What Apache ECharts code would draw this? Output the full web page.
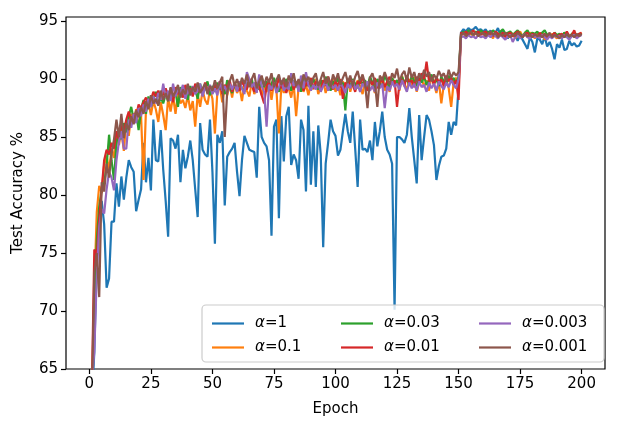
<!DOCTYPE html>
<html>
<head>
<meta charset="utf-8">
<script src="https://cdn.jsdelivr.net/npm/echarts@6/dist/echarts.min.js"></script>
<style>
  html, body { margin: 0; padding: 0; background: #fff; }
  #main { width: 623px; height: 429px; }
</style>
</head>
<body>
<div id="main"></div>
<script>
"use strict";
// epochs 1..200
var epochs = [];
for (var e = 1; e <= 200; e++) epochs.push(e);

var xTicks = [0, 25, 50, 75, 100, 125, 150, 175, 200];
var yTicks = [65, 70, 75, 80, 85, 90, 95];
var names = ["α=1", "α=0.1", "α=0.03", "α=0.01", "α=0.003", "α=0.001"];
var colors = ["#1f77b4", "#ff7f0e", "#2ca02c", "#d62728", "#9467bd", "#8c564b"];

var a1 = [
  62.0, 66.5, 74.5, 78.0, 79.5, 77.5, 72.0, 72.8, 77.7, 77.7,
  81.0, 79.0, 81.6, 79.6, 81.5, 83.0, 82.4, 82.0, 78.6, 79.6,
  80.5, 84.5, 81.1, 83.2, 80.4, 86.5, 83.0, 82.9, 85.6, 82.2,
  79.5, 76.4, 84.9, 84.7, 84.0, 85.2, 81.1, 83.9, 82.3, 83.3,
  84.7, 83.0, 80.5, 78.1, 86.2, 83.9, 83.5, 83.3, 86.5, 82.0,
  75.8, 85.2, 84.5, 85.5, 79.1, 83.3, 83.7, 84.0, 84.5, 82.0,
  79.9, 83.0, 85.1, 84.5, 83.9, 83.8, 83.7, 81.5, 87.6, 85.0,
  84.5, 84.2, 83.0, 76.5, 85.9, 86.5, 78.0, 86.8, 82.9, 86.8,
  87.6, 82.6, 83.5, 83.0, 81.4, 86.5, 85.6, 80.3, 87.7, 80.9,
  85.5, 80.7, 86.0, 83.5, 75.5, 82.7, 84.5, 86.5, 85.5, 85.1,
  83.4, 83.9, 85.5, 87.0, 85.5, 84.5, 87.2, 84.0, 80.7, 86.5,
  83.9, 84.0, 83.7, 84.7, 83.0, 86.3, 84.2, 85.5, 87.2, 85.0,
  83.9, 83.5, 82.7, 70.1, 85.0, 85.0, 84.8, 84.5, 85.2, 87.5,
  85.0, 83.0, 81.0, 86.9, 83.0, 85.0, 86.9, 86.5, 85.5, 84.3,
  81.3, 82.5, 83.3, 83.4, 84.0, 86.3, 85.2, 86.3, 86.0, 89.3,
  94.0, 94.3, 94.1, 94.4, 94.2, 94.3, 94.5, 94.2, 94.3, 94.1,
  94.3, 93.9, 94.2, 93.6, 94.0, 94.4, 93.8, 94.2, 93.9, 93.5,
  94.0, 93.7, 93.9, 93.3, 93.8, 93.4, 93.0, 92.6, 93.6, 93.2,
  92.3, 93.5, 93.4, 93.0, 93.7, 92.8, 93.2, 92.6, 91.7, 93.0,
  92.7, 93.4, 92.5, 92.6, 93.3, 92.9, 93.1, 92.8, 92.9, 93.3
];
var a01 = [
  62.0, 72.0, 78.5, 80.8, 80.2, 82.6, 83.4, 82.1, 84.0, 83.2,
  85.1, 84.3, 85.6, 83.8, 86.4, 85.1, 87.0, 86.3, 87.4, 86.0,
  86.8, 81.3, 87.4, 88.0, 86.9, 88.1, 87.4, 86.3, 88.0, 86.9,
  85.6, 88.4, 87.2, 88.5, 87.0, 88.8, 87.9, 88.2, 87.5, 88.6,
  87.3, 88.1, 85.9, 88.7, 87.6, 89.0, 88.2, 87.8, 89.1, 88.3,
  85.3, 88.9, 89.4, 88.0, 89.2, 88.6, 89.5, 88.4, 89.7, 88.8,
  89.3, 88.1, 89.6, 89.0, 88.5, 89.8, 88.7, 89.2, 89.9, 88.6,
  89.4, 88.9, 89.6, 88.2, 89.7, 89.1, 85.3, 89.5, 88.8, 89.9,
  89.2, 88.4, 89.6, 86.8, 89.3, 89.8, 88.9, 89.5, 88.6, 89.7,
  89.1, 90.0, 88.7, 89.4, 89.9, 88.8, 89.6, 89.2, 90.1, 88.9,
  89.5, 88.6, 89.8, 89.3, 90.0, 88.9, 89.7, 89.1, 89.9, 89.4,
  88.7, 89.8, 89.2, 90.0, 89.5, 88.8, 89.9, 89.3, 90.2, 89.0,
  89.6, 88.9, 90.1, 89.4, 89.8, 89.0, 90.3, 89.5, 89.1, 90.0,
  89.4, 90.2, 88.9, 89.7, 90.1, 89.3, 89.9, 89.0, 90.3, 89.6,
  88.8, 89.8, 87.9, 89.5, 90.0, 89.2, 87.6, 89.7, 90.1, 89.8,
  93.7, 94.0, 93.8, 94.1, 93.9, 93.7, 94.0, 93.8, 94.1, 93.9,
  93.6, 94.0, 93.8, 93.5, 94.1, 93.9, 93.7, 94.0, 93.8, 93.6,
  94.0, 93.9, 93.5, 93.8, 94.1, 93.7, 93.9, 93.6, 94.0, 93.8,
  93.5, 93.9, 93.7, 94.0, 93.4, 93.8, 93.6, 93.9, 93.7, 93.5,
  93.8, 93.6, 94.0, 93.7, 93.5, 93.8, 93.9, 93.6, 93.8, 94.0
];
var a003 = [
  61.0, 70.5, 76.0, 79.0, 80.5, 81.0, 82.5, 85.2, 83.0, 81.3,
  84.5, 85.5, 84.8, 86.2, 85.4, 86.8, 87.6, 86.5, 87.2, 85.6,
  87.4, 88.2, 87.0, 88.5, 87.6, 88.3, 88.9, 87.8, 88.4, 87.9,
  88.7, 88.1, 89.2, 88.4, 88.9, 87.6, 89.3, 88.6, 89.0, 88.2,
  89.4, 88.7, 89.1, 88.3, 89.6, 88.8, 89.2, 89.8, 88.6, 89.4,
  88.9, 89.7, 89.1, 89.5, 88.7, 89.9, 89.3, 88.8, 89.6, 89.0,
  89.8, 89.2, 88.9, 89.7, 89.4, 90.0, 88.9, 89.5, 89.1, 90.2,
  89.3, 89.8, 89.0, 89.6, 90.1, 89.4, 88.9, 89.7, 89.2, 90.0,
  89.5, 89.0, 89.9, 89.3, 89.7, 88.9, 90.1, 89.4, 89.8, 89.2,
  90.0, 89.5, 89.1, 89.9, 89.4, 90.2, 89.6, 89.0, 89.8, 89.5,
  90.1, 89.3, 89.7, 87.3, 89.9, 89.4, 90.0, 89.6, 89.2, 90.1,
  89.5, 89.9, 89.3, 90.2, 89.7, 89.1, 90.0, 89.6, 89.4, 90.3,
  89.8, 89.2, 90.1, 89.6, 89.9, 89.3, 90.2, 89.7, 90.0, 89.5,
  90.3, 89.8, 89.4, 90.1, 89.7, 90.2, 89.5, 89.9, 90.4, 89.6,
  90.0, 89.4, 90.2, 89.8, 89.5, 90.3, 89.7, 90.1, 89.6, 90.2,
  93.9, 94.1, 93.9, 94.2, 94.0, 93.8, 94.1, 93.9, 94.2, 94.0,
  93.8, 94.1, 93.9, 94.2, 94.0, 93.7, 94.1, 94.3, 93.9, 94.0,
  94.1, 93.8, 94.0, 94.2, 93.9, 93.7, 94.0, 94.2, 93.8, 94.0,
  93.9, 94.1, 93.7, 94.0, 94.2, 93.8, 93.9, 93.6, 94.0, 93.8,
  93.9, 93.7, 94.0, 93.8, 93.6, 93.9, 94.0, 93.7, 93.9, 93.8
];
var a001 = [
  63.0, 75.3, 74.8, 78.0, 80.5, 83.0, 83.9, 83.5, 84.5, 84.0,
  85.5, 84.8, 86.0, 85.5, 86.5, 87.2, 86.3, 87.0, 86.8, 87.8,
  87.5, 88.0, 88.4, 87.9, 88.2, 88.9, 88.5, 89.0, 88.3, 88.7,
  89.2, 88.6, 88.9, 88.0, 89.3, 88.7, 89.1, 88.4, 89.5, 88.8,
  89.2, 88.5, 89.6, 88.9, 89.3, 88.6, 89.7, 89.0, 89.4, 88.8,
  89.6, 89.1, 89.8, 88.7, 89.5, 89.2, 89.9, 88.9, 89.6, 89.3,
  89.0, 89.8, 89.4, 89.1, 90.0, 89.5, 88.9, 89.7, 89.3, 88.6,
  87.9, 89.4, 89.8, 89.0, 89.6, 89.3, 90.1, 89.2, 89.7, 88.8,
  89.5, 90.0, 89.1, 89.6, 89.3, 89.9, 89.0, 89.7, 89.4, 90.1,
  89.2, 89.8, 89.5, 89.0, 89.9, 89.4, 90.2, 89.6, 89.1, 89.8,
  89.4, 90.0, 88.3, 89.7, 89.3, 90.1, 89.5, 88.9, 89.8, 89.6,
  90.2, 89.4, 89.0, 89.9, 89.5, 90.1, 89.2, 89.7, 90.0, 89.3,
  89.8, 90.2, 89.5, 89.9, 87.6, 89.7, 90.0, 89.4, 90.3, 89.6,
  89.9, 89.3, 90.2, 89.7, 90.5, 90.0, 91.5, 89.8, 90.1, 89.5,
  90.2, 89.7, 90.0, 89.4, 90.3, 89.8, 90.1, 89.5, 89.9, 88.2,
  94.0, 93.9, 94.1, 93.8, 94.0, 94.2, 93.9, 94.1, 93.8, 94.0,
  94.1, 93.8, 94.0, 93.7, 94.1, 93.9, 93.8, 94.0, 93.6, 93.9,
  94.0, 93.7, 93.9, 94.1, 93.8, 93.6, 93.9, 94.0, 93.7, 93.9,
  93.8, 93.6, 94.0, 93.7, 93.9, 93.5, 93.8, 93.7, 94.0, 93.6,
  93.8, 93.9, 93.6, 94.1, 93.7, 93.8, 94.2, 93.6, 93.9, 94.0
];
var a0003 = [
  64.0, 66.5, 73.0, 77.3, 78.8, 78.4, 80.5, 82.0, 81.5, 80.4,
  83.0, 84.6, 85.5, 84.0, 84.0, 86.5, 85.8, 87.0, 86.2, 87.5,
  86.8, 87.8, 87.2, 88.3, 87.6, 88.5, 87.9, 88.8, 88.2, 89.6,
  88.4, 89.0, 88.1, 89.6, 88.5, 89.2, 88.8, 89.5, 88.3, 89.1,
  88.6, 89.4, 88.7, 89.0, 89.6, 88.5, 89.3, 88.9, 89.5, 88.7,
  89.2, 88.6, 89.8, 89.0, 89.4, 88.8, 89.6, 89.1, 89.7, 88.9,
  89.8, 89.2, 88.7, 90.6, 90.0, 89.3, 89.7, 88.8, 90.4, 89.4,
  88.9, 85.9, 89.5, 89.1, 89.7, 88.8, 89.3, 89.9, 89.0, 89.4,
  89.1, 90.5, 89.4, 89.8, 88.9, 90.3, 89.2, 90.6, 89.5, 89.0,
  89.5, 89.1, 89.7, 88.9, 89.4, 89.8, 89.0, 89.6, 89.2, 89.5,
  89.0, 89.7, 89.3, 88.8, 89.6, 89.2, 89.9, 89.1, 89.5, 88.9,
  89.6, 89.3, 89.8, 89.0, 89.4, 88.9, 89.7, 89.2, 89.6, 87.5,
  89.4, 89.0, 89.8, 89.3, 89.6, 89.1, 89.9, 89.4, 88.9, 89.7,
  89.2, 89.6, 89.0, 89.8, 89.3, 89.5, 88.9, 89.7, 89.2, 89.6,
  89.0, 89.8, 89.4, 89.1, 89.7, 89.3, 89.9, 89.5, 89.2, 90.0,
  93.6, 93.7, 93.5, 93.8, 93.6, 93.7, 93.5, 93.8, 93.6, 93.7,
  93.5, 93.8, 93.6, 93.9, 93.7, 93.5, 93.8, 93.6, 93.4, 93.7,
  93.8, 93.2, 93.6, 93.8, 93.5, 93.7, 93.9, 93.6, 93.5, 93.8,
  93.6, 93.7, 93.5, 93.8, 93.6, 93.4, 93.7, 93.5, 93.8, 93.6,
  93.7, 93.5, 93.8, 93.6, 93.4, 93.7, 93.8, 93.5, 93.7, 93.8
];
var a0001 = [
  62.5, 73.3, 75.0, 71.2, 81.1, 80.3, 82.7, 81.5, 83.5, 84.8,
  86.5, 85.0, 87.0, 84.9, 86.2, 85.6, 86.8, 86.1, 87.3, 86.7,
  87.6, 87.0, 88.1, 87.4, 88.6, 87.9, 88.3, 87.7, 89.0, 88.2,
  88.8, 88.1, 89.3, 88.5, 88.9, 89.5, 88.4, 89.1, 88.7, 89.6,
  88.6, 89.3, 88.9, 89.7, 88.8, 89.2, 89.6, 88.7, 89.4, 89.0,
  89.9, 89.2, 89.7, 90.2, 85.0, 88.9, 89.8, 90.4, 89.4, 90.0,
  89.3, 90.1, 89.6, 90.4, 89.3, 90.0, 90.5, 89.2, 89.8, 90.3,
  89.4, 90.2, 89.7, 90.5, 89.3, 89.9, 90.4, 89.5, 90.1, 89.3,
  90.3, 89.7, 90.5, 89.4, 90.0, 89.3, 90.4, 89.8, 90.2, 89.5,
  90.1, 90.5, 89.4, 90.0, 90.6, 89.6, 90.2, 89.3, 90.4, 89.8,
  90.5, 89.5, 90.1, 90.6, 89.7, 90.3, 89.4, 90.2, 90.7, 89.8,
  90.4, 89.6, 87.5, 90.1, 90.5, 89.7, 87.6, 90.3, 89.9, 90.6,
  90.0, 89.5, 90.5, 90.1, 90.9, 89.7, 90.4, 90.7, 89.8, 91.0,
  90.1, 90.6, 89.7, 90.5, 90.0, 90.8, 90.2, 90.6, 89.8, 90.4,
  90.0, 90.7, 90.2, 90.5, 89.8, 90.8, 90.1, 90.6, 90.3, 90.6,
  93.8, 94.0, 93.7, 93.9, 94.1, 93.8, 94.0, 93.7, 93.9, 94.0,
  93.7, 93.9, 94.1, 93.8, 94.0, 93.6, 93.9, 93.7, 94.0, 93.8,
  93.6, 93.9, 93.7, 94.0, 93.8, 93.6, 93.9, 93.7, 93.8, 93.6,
  93.9, 93.7, 93.8, 93.6, 93.9, 93.7, 94.0, 93.6, 93.8, 93.7,
  93.5, 93.8, 93.6, 93.9, 93.7, 93.8, 93.6, 93.9, 93.7, 93.9
];
var allValues = [a1, a01, a003, a001, a0003, a0001];

var font = "DejaVu Sans";
var chartDom = document.getElementById("main");
var myChart = echarts.init(chartDom, null, { renderer: "canvas" });

var series = allValues.map(function (vals, i) {
  return {
    name: names[i],
    type: "line",
    data: vals.map(function (v, k) { return [epochs[k], v]; }),
    symbol: "none",
    clip: true,
    lineStyle: { width: 2.2, color: colors[i] },
    itemStyle: { color: colors[i] },
    emphasis: { disabled: true },
    animation: false
  };
});

function makeLegend(left, items) {
  return {
    data: items,
    orient: "vertical",
    left: left,
    top: 310,
    itemWidth: 32,
    itemHeight: 2.2,
    itemGap: 7,
    icon: "rect",
    z: 60,
    selectedMode: false,
    formatter: function (name) { return "{i|α}{n|" + name.slice(1) + "}"; },
    textStyle: {
      fontFamily: font, fontSize: 15, color: "#000", lineHeight: 17,
      padding: [0, 0, 0, 6],
      rich: {
        i: { fontFamily: font, fontSize: 15, fontStyle: "italic", color: "#000" },
        n: { fontFamily: font, fontSize: 15, color: "#000" }
      }
    }
  };
}

var option = {
  animation: false,
  backgroundColor: "#fff",
  grid: {
    left: 66, right: 18, top: 17, bottom: 60,
    show: true, borderColor: "#000", borderWidth: 1.2, backgroundColor: "transparent"
  },
  xAxis: {
    type: "value",
    min: -9.5,
    max: 209.5,
    name: "Epoch",
    nameLocation: "middle",
    nameGap: 33,
    nameTextStyle: { fontFamily: font, fontSize: 15, color: "#000" },
    axisLine: { show: false, onZero: false },
    axisTick: { show: true, inside: false, length: 5, lineStyle: { color: "#000", width: 1.2 }, customValues: xTicks },
    axisLabel: { fontFamily: font, fontSize: 15, color: "#000", margin: 8, customValues: xTicks },
    splitLine: { show: false }
  },
  yAxis: {
    type: "value",
    min: 65,
    max: 95.35,
    name: "Test Accuracy %",
    nameLocation: "middle",
    nameGap: 40,
    nameTextStyle: { fontFamily: font, fontSize: 15, color: "#000" },
    axisLine: { show: false, onZero: false },
    axisTick: { show: true, inside: false, length: 5, lineStyle: { color: "#000", width: 1.2 }, customValues: yTicks },
    axisLabel: { fontFamily: font, fontSize: 15, color: "#000", margin: 8, customValues: yTicks },
    splitLine: { show: false }
  },
  legend: [
    makeLegend(207, [names[0], names[1]]),
    makeLegend(336, [names[2], names[3]]),
    makeLegend(474, [names[4], names[5]])
  ],
  graphic: [{
    type: "rect",
    z: 50,
    shape: { x: 202, y: 305, width: 402, height: 57, r: 4 },
    style: { fill: "rgba(255,255,255,0.8)", stroke: "#cccccc", lineWidth: 1.2 }
  }],
  series: series
};

option && myChart.setOption(option);
</script>
</body>
</html>
